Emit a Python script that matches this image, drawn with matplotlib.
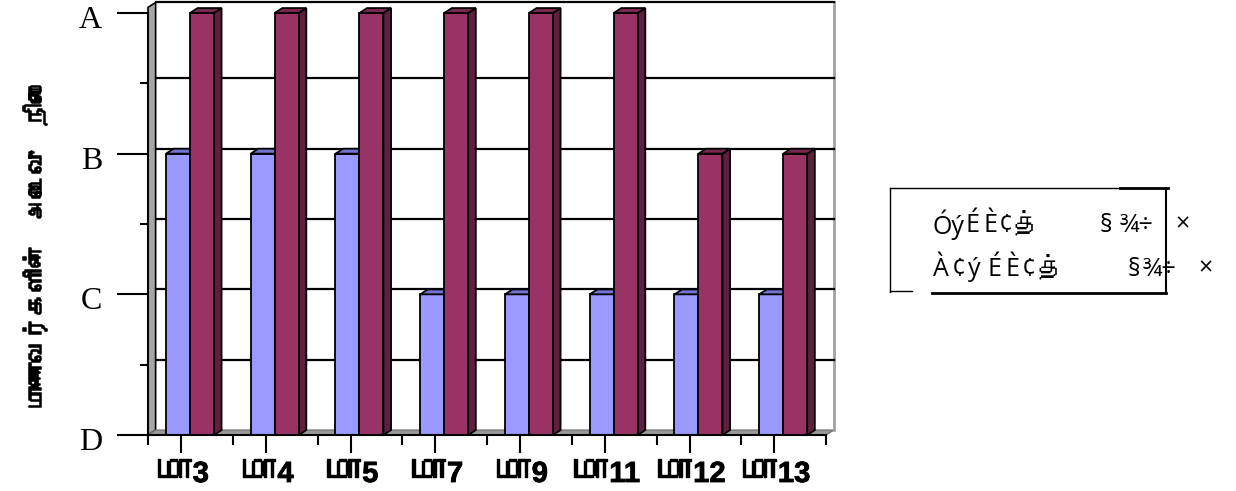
import re
import matplotlib
matplotlib.use("Agg")
import matplotlib.pyplot as plt
from matplotlib import font_manager
from matplotlib.patches import Polygon
from matplotlib.lines import Line2D
import matplotlib.patheffects as pe
import matplotlib.transforms as mtrans

# ---------------- data ----------------
categories = ['மா3', 'மா4', 'மா5', 'மா7', 'மா9', 'மா11', 'மா12', 'மா13']
series_blue = [2, 2, 2, 1, 1, 1, 1, 1]      # D=0, C=1, B=2, A=3
series_purple = [3, 3, 3, 3, 3, 3, 2, 2]
level_values = [0, 1, 2, 3]
level_labels = ['D', 'C', 'B', 'A']
legend_labels = ['Óý É È ¢ த் § ¾÷ ×', 'À ¢ ý É È ¢ த் § ¾÷ ×']
y_title = 'மாணவர்களின்  அடைவு  நிலை'


# ---------------- fonts ----------------
def find_family(ch):
    try:
        from fontTools.ttLib import TTFont
    except Exception:
        return None
    for f in font_manager.fontManager.ttflist:
        try:
            kw = {}
            if f.fname.lower().endswith(('.ttc', '.otc')):
                kw['fontNumber'] = 0
            tt = TTFont(f.fname, lazy=True, **kw)
            cmap = tt.getBestCmap()
            if cmap and ord(ch) in cmap:
                return f.name
        except Exception:
            continue
    return None

tamil = find_family('ம')
tam = [tamil] if tamil else []

W, H = 1236, 491
fig = plt.figure(figsize=(W / 100, H / 100), dpi=100)
fig.patch.set_facecolor('white')

def fx(px):
    return px / W

def fy(py):
    return (H - py) / H

# axes: x from 148 to 826 px, y: 0 at 435 px, 3 at 13 px
ax = fig.add_axes([fx(148), fy(435), fx(826) - fx(148), fy(13) - fy(435)])
ax.set_xlim(-0.5, len(categories) - 0.5)
ax.set_ylim(0, 3)
ax.set_facecolor('none')

dx = 0.09    # depth offset (category units)
dy = 0.035   # depth offset (value units)
x0, x1 = -0.5, len(categories) - 0.5
ytop = max(level_values)

# left wall
ax.add_patch(Polygon([(x0, 0), (x0 + dx, dy), (x0 + dx, ytop + dy + 0.04), (x0, ytop + 0.04)],
                     closed=True, facecolor='#a6a6a6', edgecolor='black', lw=1.2,
                     clip_on=False, zorder=1))
# floor
ax.add_patch(Polygon([(x0, 0), (x1, 0), (x1 + dx, dy), (x0 + dx, dy)],
                     closed=True, facecolor='#999999', edgecolor='#777777', lw=1.0,
                     clip_on=False, zorder=1))
# right edge of back wall
ax.add_line(Line2D([x1 + dx, x1 + dx], [dy, ytop + dy + 0.04], color='#a0a0a0', lw=2,
                   clip_on=False, zorder=1))
# gridlines on the back wall
grid_levels = [0.5, 1, 1.5, 2, 2.5, 3]
for g in grid_levels:
    yy = g + dy + (0.04 if g == ytop else 0)
    ax.add_line(Line2D([x0 + dx, x1 + dx], [yy, yy], color='black', lw=1.6,
                       clip_on=False, zorder=1.5))

# bars
bw = 0.283
off_blue = -0.288
off_pur = off_blue + bw
blue_front, blue_top, blue_side = '#9999ff', '#7373cf', '#6b6bbf'
pur_front, pur_top, pur_side = '#993366', '#7a2850', '#5e1f40'


def draw_bar(xl, v, front, top, side, z):
    xr = xl + bw
    ax.add_patch(Polygon([(xr, 0), (xr + dx, dy), (xr + dx, v + dy), (xr, v)], closed=True,
                         facecolor=side, edgecolor='black', lw=1.3, zorder=z, clip_on=False))
    ax.bar(xl, v, width=bw, align='edge', color=front, edgecolor='black', lw=1.3,
           zorder=z + 0.1, clip_on=False)
    ax.add_patch(Polygon([(xl, v), (xr, v), (xr + dx, v + dy), (xl + dx, v + dy)], closed=True,
                         facecolor=top, edgecolor='black', lw=1.3, zorder=z + 0.2, clip_on=False))


for i, (vb, vp) in enumerate(zip(series_blue, series_purple)):
    draw_bar(i + off_blue, vb, blue_front, blue_top, blue_side, 3 + i)
    draw_bar(i + off_pur, vp, pur_front, pur_top, pur_side, 3.5 + i)

# spines
for s in ['top', 'right']:
    ax.spines[s].set_visible(False)
ax.spines['left'].set_linewidth(1.5)
ax.spines['bottom'].set_linewidth(1.5)
ax.spines['left'].set_zorder(20)
ax.spines['bottom'].set_zorder(20)

# y ticks
ax.set_yticks(level_values)
ax.set_yticklabels(level_labels, family=['Liberation Serif', 'DejaVu Serif'], fontsize=23)
ax.set_yticks([0.5, 1.5, 2.5], minor=True)
ax.tick_params(axis='y', which='major', length=22, width=1.5, pad=11, direction='out')
ax.tick_params(axis='y', which='minor', length=6, width=1.5, direction='out')
for lab in ax.get_yticklabels():
    lab.set_transform(lab.get_transform() + mtrans.ScaledTranslation(0, -4 / 100, fig.dpi_scale_trans))

# x ticks (labels drawn as two runs: Tamil prefix + bold number)
tick_pos = [i - 0.11 for i in range(len(categories))]
ax.set_xticks(tick_pos)
ax.set_xticklabels([''] * len(categories))
ax.set_xticks([i - 0.5 for i in range(len(categories) + 1)], minor=True)
ax.tick_params(axis='x', which='major', length=13, width=1.5, direction='out')
ax.tick_params(axis='x', which='minor', length=7, width=1.5, direction='out')

renderer = fig.canvas.get_renderer()
baseline_px = 482
stroke = [pe.withStroke(linewidth=1.0, foreground='black')]
for xp, lab in zip(tick_pos, categories):
    m = re.match(r'^(\D*)(\d*)$', lab)
    pre, num = m.group(1), m.group(2)
    t1 = fig.text(0, fy(baseline_px), pre, ha='left', va='baseline', fontsize=27,
                  family=tam + ['DejaVu Sans'], fontweight='bold', path_effects=stroke)
    t2 = fig.text(0, fy(baseline_px), num, ha='left', va='baseline', fontsize=21,
                  family=['Liberation Sans', 'DejaVu Sans'], fontweight='bold',
                  path_effects=[pe.withStroke(linewidth=0.6, foreground='black')])
    w1 = t1.get_window_extent(renderer).width
    w2 = t2.get_window_extent(renderer).width
    cx = ax.transData.transform((xp, 0))[0]
    left = cx - (w1 + w2 + 2) / 2
    t1.set_x(fx(left))
    t2.set_x(fx(left + w1 + 2))

# y title
fig.text(fx(35), fy(245), y_title, rotation=90, ha='center', va='center',
         fontsize=17, family=tam + ['DejaVu Sans'],
         path_effects=[pe.withStroke(linewidth=1.1, foreground='black')])

# legend box
def fline(xa, ya, xb, yb, lw, color='black'):
    fig.add_artist(Line2D([fx(xa), fx(xb)], [fy(ya), fy(yb)], color=color, lw=lw,
                          transform=fig.transFigure))

fline(890, 188, 890, 292, 1.0)
fline(890, 188, 1168, 188, 1.0)
fline(1120, 188, 1168, 188, 2.0)
fline(1166, 188, 1166, 293, 1.5)
fline(890, 291, 912, 291, 1.0)
fline(932, 293, 1166, 293, 2.0)

# legend text, token by token (the legacy-font spacing)
leg_fam = ['Open Sans'] + tam + ['DejaVu Sans']
token_x = [[933, 966, 983, 999, 1013, 1100, 1120, 1175],
           [933, 952, 968, 987, 1005, 1022, 1037, 1128, 1143, 1198]]
line_y = [225, 269]
for label, xs, ly in zip(legend_labels, token_x, line_y):
    for tok, tx in zip(label.split(' '), xs):
        fig.text(fx(tx), fy(ly), tok, ha='left', va='center', fontsize=18, family=leg_fam)

fig.savefig('out.png', dpi=100, facecolor='white')
